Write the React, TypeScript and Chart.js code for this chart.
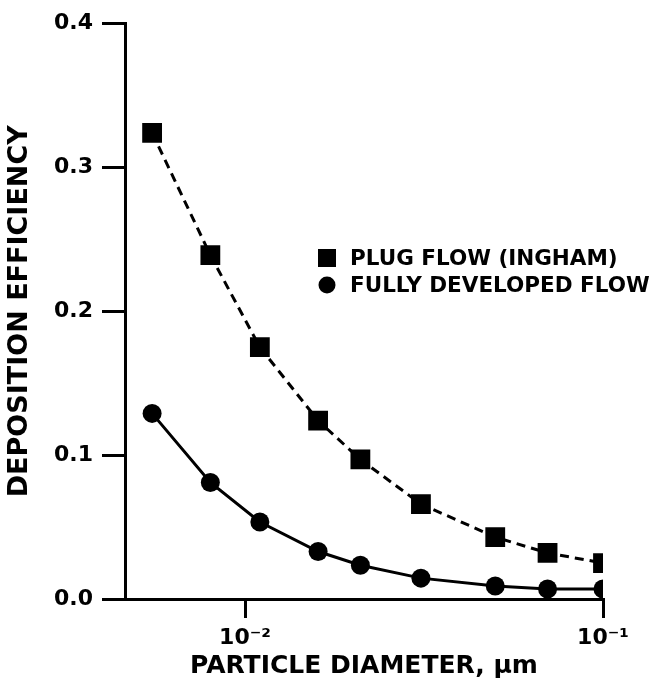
import React, { useEffect, useRef } from "react";
import { Chart, registerables } from "chart.js";

Chart.register(...registerables);

const diameters = [0.0055, 0.008, 0.011, 0.016, 0.021, 0.031, 0.05, 0.07, 0.1];
const plugFlow = [0.324, 0.239, 0.175, 0.124, 0.097, 0.066, 0.043, 0.032, 0.025];
const fullyDeveloped = [0.129, 0.081, 0.0535, 0.033, 0.0235, 0.0145, 0.009, 0.007, 0.007];
const xTickValues = [0.01, 0.1];
const xTickLabels = ["10\u207B\u00B2", "10\u207B\u00B9"];
const seriesNames = ["PLUG FLOW (INGHAM)", "FULLY DEVELOPED FLOW"];
const xTitle = "PARTICLE DIAMETER, \u00B5m";
const yTitle = "DEPOSITION EFFICIENCY";

const FONT = "'DejaVu Sans', 'Liberation Sans', Arial, sans-serif";

const legendPlugin = {
  id: "customLegend",
  afterDraw(chart: any) {
    const ctx = chart.ctx;
    ctx.save();
    ctx.fillStyle = "#000";
    ctx.font = `bold 21.5px ${FONT}`;
    ctx.textBaseline = "middle";
    ctx.textAlign = "left";
    ctx.fillRect(318, 249, 18, 18);
    ctx.fillText(seriesNames[0], 350, 259);
    ctx.beginPath();
    ctx.arc(327, 285, 8.5, 0, Math.PI * 2);
    ctx.fill();
    ctx.fillText(seriesNames[1], 350, 286);
    ctx.restore();
  },
};

export default function App() {
  const ref = useRef<HTMLCanvasElement | null>(null);
  useEffect(() => {
    document.body.style.margin = "0";
    const canvas = ref.current!;
    const chart = new Chart(canvas, {
      type: "line",
      data: {
        datasets: [
          {
            label: seriesNames[0],
            data: diameters.map((x, i) => ({ x, y: plugFlow[i] })),
            borderColor: "#000",
            backgroundColor: "#000",
            borderWidth: 3,
            borderDash: [9, 6],
            pointStyle: "rect",
            pointRadius: 14,
            pointBorderWidth: 0,
            pointBackgroundColor: "#000",
            tension: 0,
          },
          {
            label: seriesNames[1],
            data: diameters.map((x, i) => ({ x, y: fullyDeveloped[i] })),
            borderColor: "#000",
            backgroundColor: "#000",
            borderWidth: 3,
            pointStyle: "circle",
            pointRadius: 9.5,
            pointBorderWidth: 0,
            pointBackgroundColor: "#000",
            tension: 0,
          },
        ],
      },
      options: {
        animation: false,
        responsive: false,
        maintainAspectRatio: false,
        layout: { padding: { top: 23.5, right: 54, left: 0, bottom: 0 } },
        plugins: {
          legend: { display: false },
          tooltip: { enabled: false },
        },
        scales: {
          x: {
            type: "logarithmic",
            min: 0.00462,
            max: 0.1,
            afterBuildTicks: (scale: any) => {
              scale.ticks = xTickValues.map((v) => ({ value: v }));
            },
            afterFit: (scale: any) => {
              scale.height = 84;
            },
            ticks: {
              color: "#000",
              font: { family: FONT, weight: "bold", size: 22 },
              padding: 7,
              maxRotation: 0,
              autoSkip: false,
              callback: (v: any) => {
                const i = xTickValues.indexOf(Number(v));
                return i >= 0 ? xTickLabels[i] : "";
              },
            },
            grid: {
              display: true,
              drawOnChartArea: false,
              drawTicks: true,
              tickLength: 19,
              lineWidth: 3,
              color: "#000",
            },
            border: { display: true, color: "#000", width: 3 },
            title: {
              display: true,
              text: xTitle,
              color: "#000",
              font: { family: FONT, weight: "bold", size: 25 },
              padding: { top: 0, bottom: 2 },
            },
          },
          y: {
            type: "linear",
            min: 0,
            max: 0.4,
            afterFit: (scale: any) => {
              scale.width = 125;
            },
            ticks: {
              stepSize: 0.1,
              color: "#000",
              font: { family: FONT, weight: "bold", size: 22 },
              padding: 9,
              callback: (v: any) => Number(v).toFixed(1),
            },
            grid: {
              display: true,
              drawOnChartArea: false,
              drawTicks: true,
              tickLength: 23,
              lineWidth: 3,
              color: "#000",
            },
            border: { display: true, color: "#000", width: 3 },
            title: {
              display: true,
              text: yTitle,
              color: "#000",
              font: { family: FONT, weight: "bold", size: 27 },
              padding: { top: 4, bottom: 0 },
            },
          },
        },
      },
      plugins: [legendPlugin],
    });
    return () => chart.destroy();
  }, []);
  return (
    <div style={{ position: "absolute", left: 0, top: 0, width: 657, height: 683, background: "#fff" }}>
      <canvas ref={ref} width={657} height={683} style={{ width: 657, height: 683 }} />
    </div>
  );
}
